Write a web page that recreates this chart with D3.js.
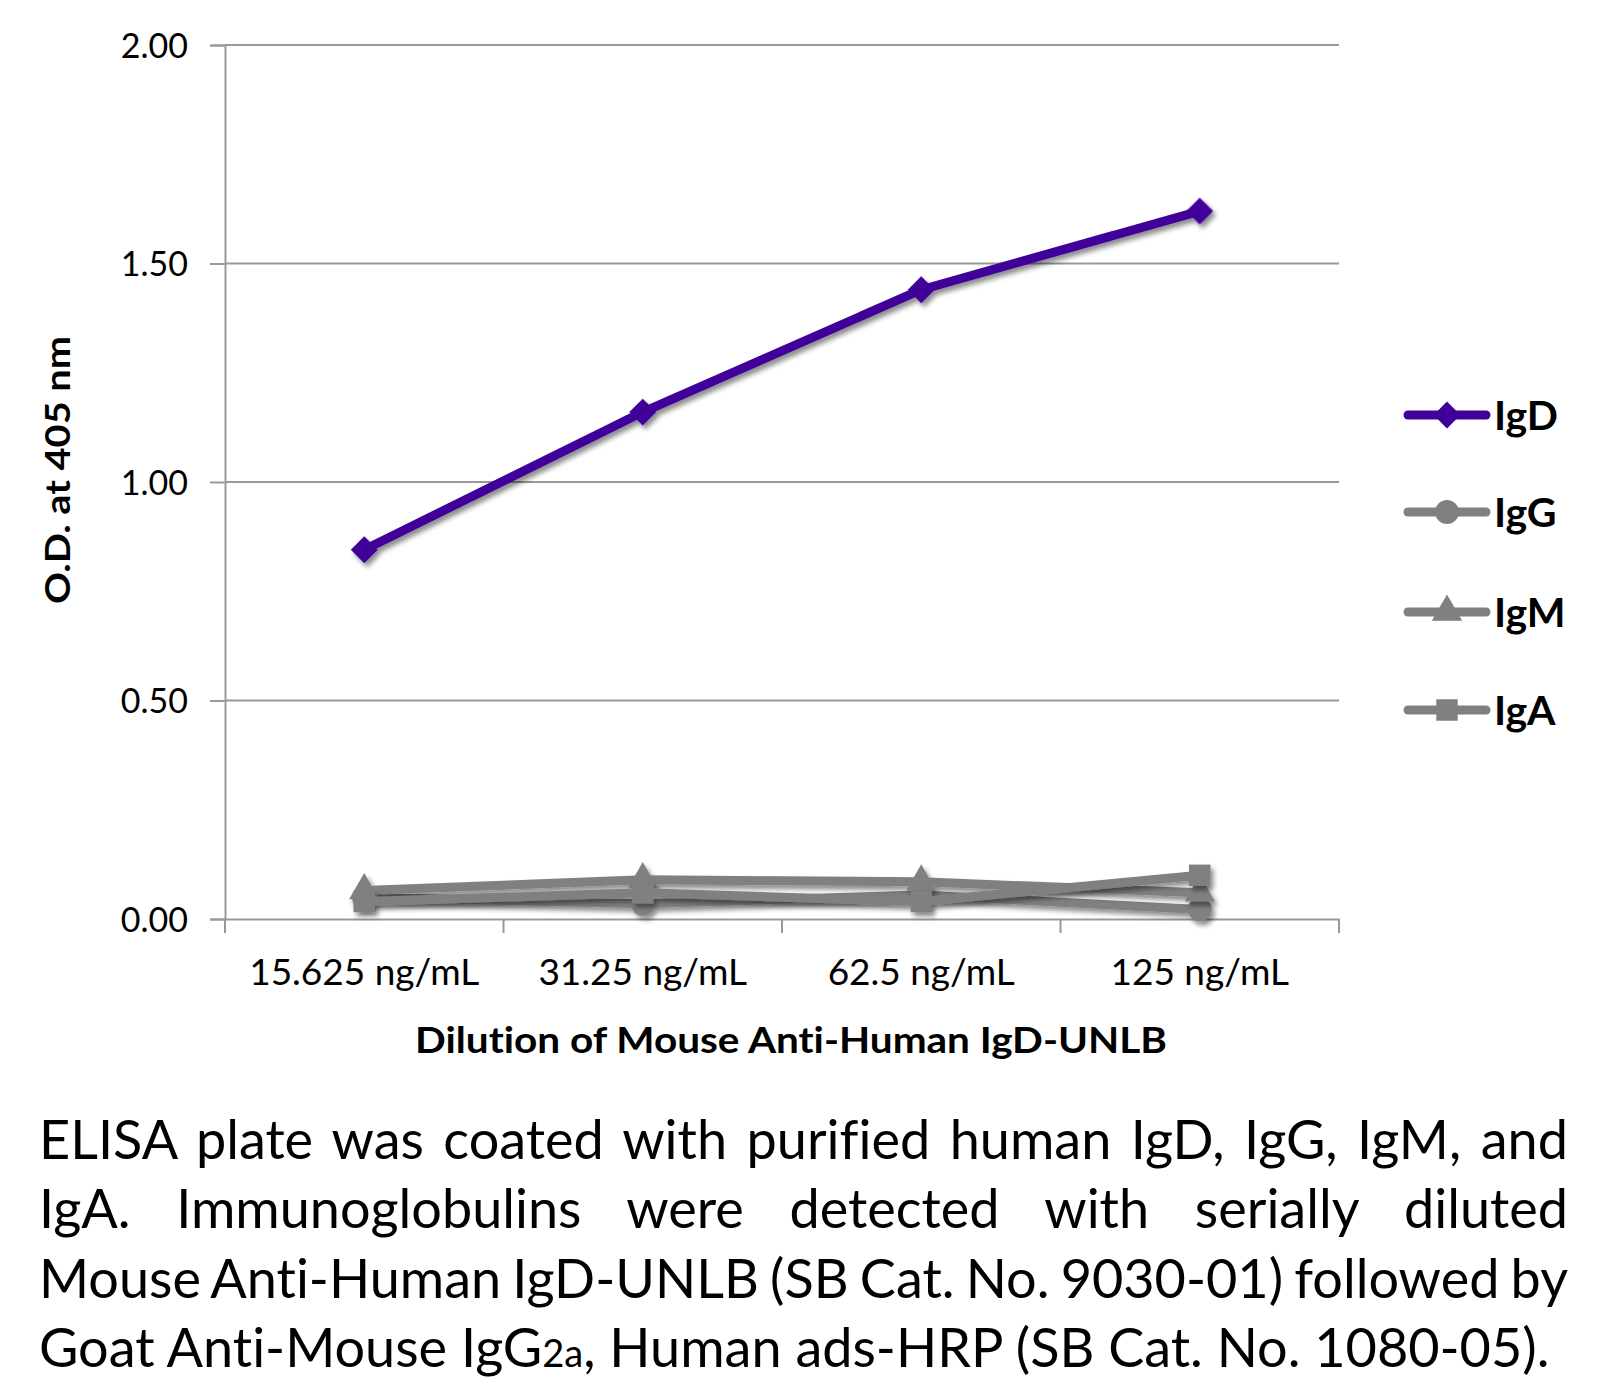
<!DOCTYPE html>
<html>
<head>
<meta charset="utf-8">
<script src="https://cdn.jsdelivr.net/npm/d3@7"></script>
<style>
  body { margin: 0; background: #fff; }
  text { font-family: Lato, "Open Sans", sans-serif; fill: #000; font-variant-ligatures: none; }
</style>
</head>
<body>
<div id="chart"></div>
<script>
// data
var categories = ["15.625 ng/mL", "31.25 ng/mL", "62.5 ng/mL", "125 ng/mL"];
var igD = [0.845, 1.16, 1.44, 1.62];
var igG = [0.05, 0.035, 0.055, 0.022];
var igM = [0.065, 0.09, 0.085, 0.06];
var igA = [0.04, 0.06, 0.04, 0.10];
var yTicks = [0, 0.5, 1, 1.5, 2];
var seriesNames = ["IgD", "IgG", "IgM", "IgA"];
var captionLines = [
    "ELISA plate was coated with purified human IgD, IgG, IgM, and",
    "IgA. Immunoglobulins were detected with serially diluted",
    "Mouse Anti-Human IgD-UNLB (SB Cat. No. 9030-01) followed by"
];

var W = 1605, H = 1386;
var plotLeft = 225, plotRight = 1339, plotTop = 45, plotBottom = 919;

var svg = d3.select("#chart").append("svg").attr("width", W).attr("height", H);

// drop shadow like the office chart
var defs = svg.append("defs");
defs.append("filter").attr("id", "shadow")
    .attr("x", "-20%").attr("y", "-20%").attr("width", "140%").attr("height", "140%")
    .append("feDropShadow")
    .attr("dx", 3).attr("dy", 4).attr("stdDeviation", 2.5)
    .attr("flood-color", "#000").attr("flood-opacity", 0.45);

var x = d3.scaleBand().domain(categories).range([plotLeft, plotRight]).padding(0);
var y = d3.scaleLinear().domain([0, 2]).range([plotBottom, plotTop]);
var cx = function (c) { return x(c) + x.bandwidth() / 2; };

// gridlines
svg.append("g").selectAll("line")
    .data(yTicks.filter(function (d) { return d > 0; }))
    .enter().append("line")
    .attr("x1", plotLeft).attr("x2", plotRight)
    .attr("y1", function (d) { return y(d); }).attr("y2", function (d) { return y(d); })
    .attr("stroke", "#999").attr("stroke-width", 2);

// y axis
var yAxis = d3.axisLeft(y).tickValues(yTicks).tickFormat(d3.format(".2f")).tickSize(15).tickPadding(22);
var gy = svg.append("g").attr("transform", "translate(" + plotLeft + ",0)").call(yAxis);
gy.select(".domain").attr("stroke", "#999").attr("stroke-width", 2);
gy.selectAll(".tick line").attr("stroke", "#999").attr("stroke-width", 2);
gy.selectAll(".tick text").style("font-size", "34px").attr("fill", "#000").attr("dy", "0.36em");

// x axis
var xAxis = d3.axisBottom(x).tickSize(0).tickPadding(40);
var gx = svg.append("g").attr("transform", "translate(0," + plotBottom + ")").call(xAxis);
gx.select(".domain").attr("stroke", "#999").attr("stroke-width", 2);
gx.selectAll(".tick text").style("font-size", "37px").attr("fill", "#000");
svg.append("g").selectAll("line")
    .data(categories.map(function (c) { return x(c); }).concat([x.range()[1]]))
    .enter().append("line")
    .attr("x1", function (d) { return d; }).attr("x2", function (d) { return d; })
    .attr("y1", plotBottom).attr("y2", plotBottom + 14)
    .attr("stroke", "#999").attr("stroke-width", 2);

// axis titles
svg.append("text")
    .attr("transform", "translate(70,470) rotate(-90)")
    .attr("text-anchor", "middle")
    .attr("textLength", 268).attr("lengthAdjust", "spacingAndGlyphs")
    .style("font-size", "34px").style("font-weight", "bold")
    .text("O.D. at 405 nm");
svg.append("text")
    .attr("x", (plotLeft + plotRight) / 2 + 9).attr("y", 1053)
    .attr("text-anchor", "middle")
    .attr("textLength", 752).attr("lengthAdjust", "spacingAndGlyphs")
    .style("font-size", "37px").style("font-weight", "bold")
    .text("Dilution of Mouse Anti-Human IgD-UNLB");

// series
var series = [
    { name: seriesNames[0], values: igD, color: "#41009a", symbol: d3.symbolSquare, size: 360, rot: 45 },
    { name: seriesNames[1], values: igG, color: "#808080", symbol: d3.symbolCircle, size: 450, rot: 0 },
    { name: seriesNames[2], values: igM, color: "#808080", symbol: d3.symbolTriangle, size: 400, rot: 0 },
    { name: seriesNames[3], values: igA, color: "#808080", symbol: d3.symbolSquare, size: 460, rot: 0 }
];

var line = d3.line()
    .x(function (d, i) { return cx(categories[i]); })
    .y(function (d) { return y(d); });

series.forEach(function (s) {
    var g = svg.append("g").attr("filter", "url(#shadow)");
    g.append("path")
        .attr("d", line(s.values))
        .attr("fill", "none").attr("stroke", s.color)
        .attr("stroke-width", 9).attr("stroke-linejoin", "round").attr("stroke-linecap", "round");
    g.selectAll("path.pt")
        .data(s.values).enter().append("path").attr("class", "pt")
        .attr("d", d3.symbol().type(s.symbol).size(s.size))
        .attr("transform", function (d, i) {
            return "translate(" + cx(categories[i]) + "," + y(d) + ") rotate(" + s.rot + ")";
        })
        .attr("fill", s.color);
});

// legend
var legendY = [415, 512, 612, 710];
var lg = svg.append("g");
series.forEach(function (s, i) {
    var row = lg.append("g").attr("transform", "translate(1404," + legendY[i] + ")");
    row.append("line").attr("x1", 4).attr("x2", 82)
        .attr("stroke", s.color).attr("stroke-width", 9).attr("stroke-linecap", "round");
    row.append("path")
        .attr("d", d3.symbol().type(s.symbol).size(s.size))
        .attr("transform", "translate(43,0) rotate(" + s.rot + ")")
        .attr("fill", s.color);
    row.append("text").attr("x", 90).attr("y", 0).attr("dy", "0.36em")
        .style("font-size", "41px").style("font-weight", "bold")
        .text(s.name);
});

// caption, justified lines
var capLeft = 39, capRight = 1568, capY = [1159, 1228, 1298, 1367];
captionLines.forEach(function (t, i) {
    var tx = svg.append("text").attr("x", capLeft).attr("y", capY[i])
        .style("font-size", "54px").text(t);
    var len = tx.node().getComputedTextLength();
    var gaps = t.split(" ").length - 1;
    tx.attr("word-spacing", (capRight - capLeft - len) / gaps);
});
var last = svg.append("text").attr("x", capLeft).attr("y", capY[3]).style("font-size", "54px");
last.append("tspan").text("Goat Anti-Mouse IgG");
last.append("tspan").style("font-size", "38px").text("2a");
last.append("tspan").text(", Human ads-HRP (SB Cat. No. 1080-05).");
</script>
</body>
</html>
